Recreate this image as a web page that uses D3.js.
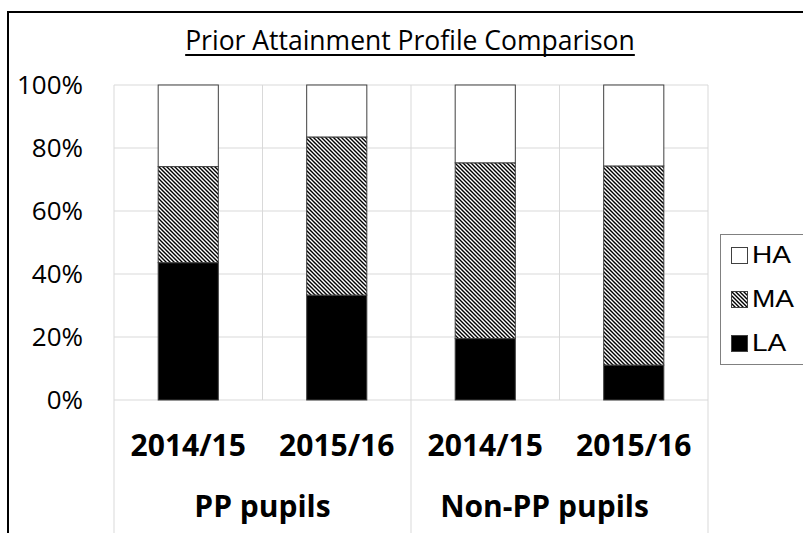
<!DOCTYPE html>
<html>
<head>
<meta charset="utf-8">
<script src="https://cdn.jsdelivr.net/npm/d3@7"></script>
<style>
  body { margin: 0; background: #fff; }
  svg { display: block; }
</style>
</head>
<body>
<div id="chart"></div>
<script>
// data (shares of each year group)
var groups = ["PP pupils", "Non-PP pupils"];
var years = ["2014/15", "2015/16", "2014/15", "2015/16"];
var barGroup = [0, 0, 1, 1];
var laValues = [0.436, 0.333, 0.195, 0.111];
var maValues = [0.305, 0.502, 0.558, 0.632];
var haValues = [0.259, 0.165, 0.247, 0.257];
var yTicks = [0, 0.2, 0.4, 0.6, 0.8, 1.0];
var seriesNames = ["HA", "MA", "LA"];

var W = 803, H = 533;
var plot = {left: 114, right: 708, top: 85, bottom: 400};

var svg = d3.select("#chart").append("svg")
    .attr("width", W).attr("height", H);

// hatch for MA
var defs = svg.append("defs");
defs.append("pattern")
    .attr("id", "hatch")
    .attr("patternUnits", "userSpaceOnUse")
    .attr("width", 4).attr("height", 4)
  .call(function(p) {
    p.append("rect").attr("width", 4).attr("height", 4).attr("fill", "#fff");
    p.append("path").attr("d", "M-1,-1 L5,5 M-1,3 L1,5 M3,-1 L5,1")
      .attr("stroke", "#000").attr("stroke-width", 1.4);
  });

var fills = {HA: "#fff", MA: "url(#hatch)", LA: "#000"};

// chart frame
svg.append("rect")
    .attr("x", 8).attr("y", 12)
    .attr("width", 900).attr("height", 700)
    .attr("fill", "#fff").attr("stroke", "#000").attr("stroke-width", 2);

var x = d3.scaleBand()
    .domain(d3.range(years.length))
    .range([plot.left, plot.right])
    .paddingInner(0).paddingOuter(0);

var y = d3.scaleLinear()
    .domain([0, 1])
    .range([plot.bottom, plot.top]);

// horizontal gridlines
svg.append("g").selectAll("line")
  .data(yTicks)
  .join("line")
    .attr("x1", plot.left).attr("x2", plot.right)
    .attr("y1", function(d) { return y(d); })
    .attr("y2", function(d) { return y(d); })
    .attr("stroke", "#d9d9d9").attr("stroke-width", 1);

// vertical category dividers
var bounds = d3.range(years.length + 1);
svg.append("g").selectAll("line")
  .data(bounds)
  .join("line")
    .attr("x1", function(i) { return plot.left + i * x.bandwidth(); })
    .attr("x2", function(i) { return plot.left + i * x.bandwidth(); })
    .attr("y1", plot.top)
    .attr("y2", function(i) { return i % 2 == 0 ? H + 5 : plot.bottom; })
    .attr("stroke", "#d9d9d9").attr("stroke-width", 1);

// y axis labels
svg.append("g").selectAll("text")
  .data(yTicks)
  .join("text")
    .attr("x", 83)
    .attr("y", function(d) { return y(d); })
    .attr("dy", "0.36em")
    .attr("text-anchor", "end")
    .style("font-family", "'Open Sans', sans-serif")
    .style("font-size", "26px")
    .attr("fill", "#000")
    .text(d3.format(".0%"));

// stacked bars
var rows = years.map(function(yr, i) {
  return {i: i, LA: laValues[i], MA: maValues[i], HA: haValues[i]};
});
var stack = d3.stack().keys(["LA", "MA", "HA"]);
var stacked = stack(rows);
var barW = x.bandwidth() * 0.405;

svg.append("g").selectAll("g")
  .data(stacked)
  .join("g")
    .attr("fill", function(s) { return fills[s.key]; })
  .selectAll("rect")
  .data(function(s) { return s; })
  .join("rect")
    .attr("x", function(d) { return x(d.data.i) + (x.bandwidth() - barW) / 2; })
    .attr("y", function(d) { return y(d[1]); })
    .attr("width", barW)
    .attr("height", function(d) { return y(d[0]) - y(d[1]); })
    .attr("stroke", "#404040").attr("stroke-width", 1);

// category labels
svg.append("g").selectAll("text")
  .data(years)
  .join("text")
    .attr("x", function(d, i) { return x(i) + x.bandwidth() / 2; })
    .attr("y", 456)
    .attr("text-anchor", "middle")
    .style("font-family", "'Open Sans', sans-serif")
    .style("font-weight", "bold")
    .style("font-size", "30px")
    .text(function(d) { return d; });

// group labels
svg.append("g").selectAll("text")
  .data(groups)
  .join("text")
    .attr("x", function(g, gi) {
      var idx = barGroup.map(function(b, i) { return b == gi ? i : -1; }).filter(function(i) { return i >= 0; });
      var c = (x(idx[0]) + x(idx[idx.length - 1]) + x.bandwidth()) / 2;
      return gi == 1 ? c - 15 : c;
    })
    .attr("y", 517)
    .attr("text-anchor", "middle")
    .style("font-family", "'Open Sans', sans-serif")
    .style("font-weight", "bold")
    .style("font-size", "30px")
    .text(function(d) { return d; });

// title
var title = svg.append("text")
    .attr("x", 410).attr("y", 50)
    .attr("text-anchor", "middle")
    .style("font-family", "'Open Sans', sans-serif")
    .style("font-size", "26.5px")
    .text("Prior Attainment Profile Comparison");
var tw = title.node().getComputedTextLength();
svg.append("line")
    .attr("x1", 410 - tw / 2).attr("x2", 410 + tw / 2)
    .attr("y1", 55).attr("y2", 55)
    .attr("stroke", "#000").attr("stroke-width", 2);

// legend
var legend = svg.append("g");
legend.append("rect")
    .attr("x", 720.5).attr("y", 234.5)
    .attr("width", 120).attr("height", 130)
    .attr("fill", "#fff").attr("stroke", "#808080").attr("stroke-width", 1);

var item = legend.selectAll("g.item")
  .data(seriesNames)
  .join("g")
    .attr("class", "item")
    .attr("transform", function(d, i) { return "translate(731," + (255 + i * 44) + ")"; });
item.append("rect")
    .attr("x", 0.5).attr("y", -7.5)
    .attr("width", 16).attr("height", 16)
    .attr("fill", function(d) { return fills[d]; })
    .attr("stroke", "#404040").attr("stroke-width", 1);
item.append("text")
    .attr("x", 21 / 1.22).attr("y", 0)
    .attr("dy", "0.36em")
    .style("font-family", "'Liberation Sans', Arial, sans-serif")
    .style("font-size", "23px")
    .attr("transform", "scale(1.22,1)")
    .text(function(d) { return d; });
</script>
</body>
</html>
